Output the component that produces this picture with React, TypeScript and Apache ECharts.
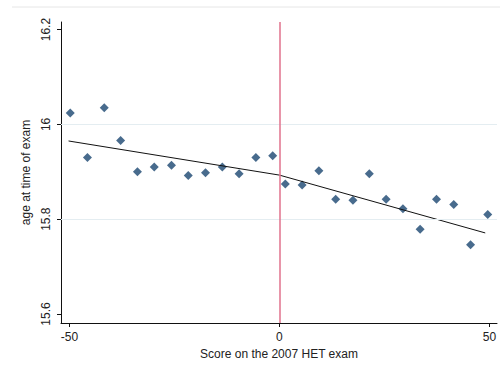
import React, { useEffect, useRef } from "react";
import * as echarts from "echarts";

const leftX = [-49.8, -45.7, -41.7, -37.8, -33.8, -29.8, -25.7, -21.7, -17.6, -13.6, -9.6, -5.6, -1.6];
const leftY = [16.024, 15.93, 16.035, 15.966, 15.9, 15.91, 15.914, 15.892, 15.898, 15.91, 15.896, 15.93, 15.934];
const rightX = [1.4, 5.4, 9.4, 13.4, 17.5, 21.4, 25.4, 29.4, 33.5, 37.4, 41.5, 45.5, 49.6];
const rightY = [15.874, 15.872, 15.902, 15.842, 15.84, 15.896, 15.842, 15.822, 15.779, 15.842, 15.831, 15.746, 15.81];
const fitLeft: [number, number][] = [[-50.2, 15.965], [0, 15.893]];
const fitRight: [number, number][] = [[0, 15.893], [49, 15.771]];
const xTicks = [-50, 0, 50];
const yTicks = [15.6, 15.8, 16, 16.2];
const gridValues = [15.8, 16];
const cutoff = 0;

export default function App() {
  const ref = useRef<HTMLDivElement>(null);
  useEffect(() => {
    if (!ref.current) return;
    const chart = echarts.init(ref.current, undefined, { renderer: "svg" });
    const pts = leftX.map((x, i) => [x, leftY[i]]).concat(rightX.map((x, i) => [x, rightY[i]]));
    const font = "Liberation Sans, Arial, sans-serif";
    chart.setOption({
      animation: false,
      backgroundColor: "#ffffff",
      grid: { left: 61, right: 3, top: 22, bottom: 45 },
      graphic: [
        {
          type: "line",
          shape: { x1: 12, y1: 7, x2: 500, y2: 7 },
          style: { stroke: "#e6e6e6", lineWidth: 1 },
        },
      ],
      xAxis: {
        type: "value",
        min: -52,
        max: 51.8,
        name: "Score on the 2007 HET exam",
        nameLocation: "middle",
        nameGap: 22,
        nameTextStyle: { color: "#222", fontSize: 12, fontFamily: font },
        axisLine: { show: true, onZero: false, lineStyle: { color: "#111", width: 1 } },
        axisTick: { show: true, length: 4, customValues: xTicks, lineStyle: { color: "#111" } },
        axisLabel: { customValues: xTicks, color: "#222", fontSize: 12, fontFamily: font, margin: 8 },
        splitLine: { show: false },
      },
      yAxis: {
        type: "value",
        min: 15.581,
        max: 16.216,
        name: "age at time of exam",
        nameLocation: "middle",
        nameGap: 23,
        nameTextStyle: { color: "#222", fontSize: 12, fontFamily: font },
        axisLine: { show: true, onZero: false, lineStyle: { color: "#111", width: 1 } },
        axisTick: { show: true, length: 4, customValues: yTicks, lineStyle: { color: "#111" } },
        axisLabel: {
          customValues: yTicks,
          rotate: 90,
          color: "#222",
          fontSize: 12,
          fontFamily: font,
          margin: 9,
          formatter: (v: number) => String(Math.round(v * 10) / 10),
        },
        splitLine: { show: false },
      },
      series: [
        {
          type: "line",
          data: [],
          silent: true,
          markLine: {
            silent: true,
            symbol: "none",
            label: { show: false },
            lineStyle: { color: "#e4edf1", width: 1, type: "solid" },
            data: gridValues.map((v) => ({ yAxis: v })),
          },
        },
        {
          type: "line",
          data: [],
          silent: true,
          markLine: {
            silent: true,
            symbol: "none",
            label: { show: false },
            lineStyle: { color: "#e0728c", width: 1.5, type: "solid" },
            data: [{ xAxis: cutoff }],
          },
        },
        {
          type: "scatter",
          data: pts,
          symbol: "diamond",
          symbolSize: 9,
          itemStyle: { color: "#1a4670" },
        },
        {
          type: "line",
          data: fitLeft,
          symbol: "none",
          lineStyle: { color: "#111", width: 1 },
        },
        {
          type: "line",
          data: fitRight,
          symbol: "none",
          lineStyle: { color: "#111", width: 1 },
        },
      ],
    });
    return () => chart.dispose();
  }, []);
  return <div ref={ref} style={{ position: "absolute", left: 0, top: 0, width: 500, height: 368 }} />;
}
